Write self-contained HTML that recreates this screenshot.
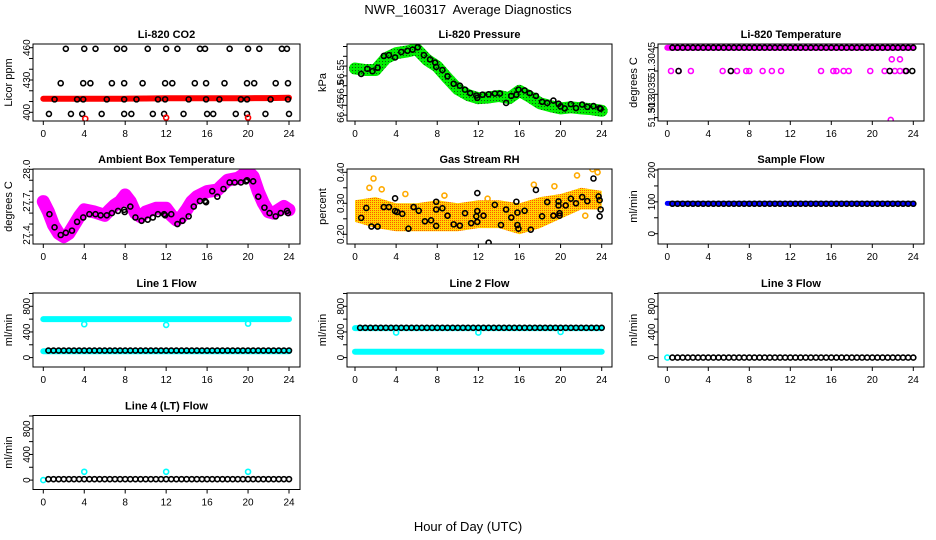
<!DOCTYPE html>
<html><head><meta charset="utf-8"><style>
html,body{margin:0;padding:0;background:#fff;}
svg{display:block;font-family:"Liberation Sans",Arial,sans-serif;}
</style></head><body>
<svg id="fig" width="936" height="540" viewBox="0 0 936 540">
<defs>
<pattern id="pGreen" width="3" height="3" patternUnits="userSpaceOnUse"><rect width="3" height="3" fill="#00ee00"/><rect x="1" y="1" width="1" height="1" fill="#115511"/></pattern>
<pattern id="pOrange" width="2" height="2" patternUnits="userSpaceOnUse"><rect width="2" height="2" fill="#ffd400"/><rect width="1" height="1" fill="#ff5500"/></pattern>
</defs>
<text x="468" y="14" text-anchor="middle" font-size="13" style="white-space:pre">NWR_160317  Average Diagnostics</text>
<text x="468" y="531" text-anchor="middle" font-size="13">Hour of Day (UTC)</text>
</svg>
<script>
// ---- data ----
const hours2 = [0,2,4,6,8,10,12,14,16,18,20,22,24];
const halfHours = [0.5,1,1.5,2,2.5,3,3.5,4,4.5,5,5.5,6,6.5,7,7.5,8,8.5,9,9.5,10,10.5,11,11.5,12,12.5,13,13.5,14,14.5,15,15.5,16,16.5,17,17.5,18,18.5,19,19.5,20,20.5,21,21.5,22,22.5,23,23.5,24];
const hoursFull = [0,1,2,3,4,5,6,7,8,9,10,11,12,13,14,15,16,17,18,19,20,21,22,23,24];

const co2Band = [412.5,412.5,412.5,412.5,412.6,412.8,413,413,413,413,413.1,413.2,413.5];
const co2Hours460 = [2.2,4.0,5.1,7.2,7.9,10.2,12.0,13.1,15.3,15.8,18.2,20.0,21.1,23.3,23.8];
const co2Hours427 = [1.7,3.9,4.6,6.7,7.9,9.7,11.9,12.6,14.8,15.9,17.7,19.9,20.6,22.7,23.9];
const co2Hours412 = [1.1,3.3,3.9,6.2,7.9,9.1,11.2,11.9,14.2,15.9,17.2,19.3,19.9,22.2,23.9];
const co2Hours398 = [0.55,2.7,3.8,5.7,7.9,8.6,10.7,11.8,13.7,16.0,16.6,18.8,19.9,21.7,24.0];
const co2RedHours = [4.1,12.0,20.0];
const co2RedValues = [394,395,395];

const presBand = [66.544,66.54,66.54,66.57,66.583,66.587,66.593,66.566,66.549,66.519,66.491,66.476,66.468,66.47,66.474,66.468,66.487,66.472,66.455,66.448,66.442,66.445,66.442,66.44,66.436];
const presPtsH = [0.6,1.2,1.7,2.2,2.8,3.3,3.9,4.5,5.1,5.6,6.1,6.7,7.3,7.8,7.9,8.5,9.0,9.6,10.2,10.7,11.2,11.8,11.9,12.4,13.0,13.6,14.1,14.7,15.2,15.7,15.9,16.5,17.0,17.6,18.2,18.7,19.3,19.8,20.0,20.4,21.0,21.5,22.1,22.6,23.2,23.8,23.9];
const presPtsV = [66.53,66.543,66.537,66.546,66.576,66.578,66.572,66.586,66.589,66.592,66.598,66.578,66.567,66.559,66.548,66.54,66.524,66.505,66.5,66.49,66.481,66.475,66.469,66.477,66.478,66.48,66.48,66.456,66.474,66.477,66.49,66.488,66.481,66.474,66.459,66.456,66.462,66.454,66.447,66.442,66.453,66.443,66.452,66.446,66.448,66.443,66.441];

const ltMidH = [0.36,1.1,2.3,5.4,6.2,6.8,7.7,8.0,9.3,10.2,11.1,15.0,16.2,16.5,17.2,17.7,19.8,21.2,21.7,22.2,22.7,23.2];
const ltMidBlackH = [1.1,6.2,21.7,23.3,23.9];
const ltUpperH = [21.9,22.7];
const ltLowH = [21.8];
const ltTop = 51.3045, ltMid = 51.3040, ltUpper = 51.30425, ltLow = 51.30295;

const ambBandH = [0,0.5,1,1.5,2,2.5,3,3.5,4,5,6,6.5,7,7.5,8,8.5,9,9.5,10,11,12,12.5,13,13.5,14,14.5,15,16,17,17.5,18,19,19.5,20,20.5,21,21.5,22,22.5,23,23.5,24];
const ambBand = [27.705,27.613,27.49,27.415,27.385,27.415,27.49,27.567,27.63,27.61,27.58,27.63,27.675,27.705,27.765,27.705,27.6,27.567,27.61,27.644,27.644,27.58,27.537,27.567,27.63,27.705,27.75,27.796,27.81,27.857,27.9,27.918,27.948,27.98,27.933,27.796,27.69,27.613,27.6,27.63,27.66,27.63];
const ambPtsH = [0.6,1.1,1.7,2.2,2.8,3.3,3.9,4.5,5.1,5.6,6.2,6.7,7.3,7.9,7.95,8.5,9.0,9.6,10.2,10.7,11.2,11.8,11.9,12.5,13.1,13.6,14.2,14.7,15.3,15.8,15.9,16.5,17.0,17.6,18.2,18.7,19.3,19.8,19.9,20.5,21.0,21.6,22.1,22.7,23.2,23.8,23.9];
const ambPtsV = [27.59,27.47,27.4,27.42,27.44,27.52,27.56,27.59,27.59,27.58,27.58,27.6,27.62,27.63,27.61,27.66,27.56,27.53,27.54,27.56,27.59,27.59,27.58,27.59,27.5,27.53,27.57,27.66,27.71,27.71,27.7,27.8,27.75,27.82,27.88,27.88,27.88,27.89,27.9,27.89,27.75,27.65,27.6,27.57,27.6,27.62,27.6];

const rhUpper = [0.31,0.32,0.30,0.30,0.31,0.30,0.31,0.31,0.30,0.32,0.33,0.35,0.34];
const rhLower = [0.24,0.22,0.21,0.21,0.21,0.21,0.22,0.22,0.20,0.22,0.25,0.28,0.28];
const rhPtsH = [0.6,1.1,1.6,2.2,2.8,3.3,3.9,3.9,4.1,4.6,5.2,5.7,6.2,6.8,7.4,7.9,7.9,7.9,8.5,9.0,9.6,10.2,10.7,11.3,11.8,11.9,11.9,11.9,12.5,13.0,13.6,14.2,14.7,15.2,15.7,15.8,15.8,15.9,16.5,17.1,17.6,18.2,18.7,19.3,19.8,19.8,19.9,19.9,20.5,21.0,21.5,22.1,22.6,23.2,23.7,23.8,23.8,23.9];
const rhPtsV = [0.253,0.285,0.225,0.225,0.288,0.288,0.275,0.316,0.272,0.266,0.218,0.288,0.276,0.242,0.245,0.305,0.28,0.227,0.284,0.26,0.232,0.228,0.268,0.236,0.258,0.333,0.275,0.24,0.26,0.173,0.295,0.23,0.28,0.254,0.305,0.27,0.23,0.218,0.276,0.215,0.343,0.258,0.304,0.26,0.306,0.293,0.268,0.26,0.293,0.315,0.3,0.32,0.307,0.38,0.322,0.31,0.258,0.28];
const rhOutH = [1.8,1.4,2.6,4.9,8.7,12.9,17.4,19.4,21.6,22.4,23.1,23.6];
const rhOutV = [0.38,0.35,0.345,0.33,0.325,0.315,0.36,0.355,0.39,0.26,0.41,0.40];

const sampleBlue = 95, sampleBlack = 94;
const l1Cyan = 600, l1CyanLow = 100, l1Black = 110;
const l1DipH = [4,12,20], l1DipV = [520,510,530];
const l2Cyan = 460, l2CyanLow = 90, l2Black = 465;
const l2DipH = [4,12,20], l2DipV = [390,390,400];
const l3Cyan = 0, l3Black = 0;
const l4Cyan = 0, l4Black = 15;
const l4BumpH = [4,12,20], l4BumpV = [130,130,130];

// ---- layout ----
const NS = "http://www.w3.org/2000/svg";
const svg = document.getElementById('fig');
const cols = [{l:33,r:300,h0:43.3,h24:289},{l:347,r:612,h0:355,h24:601.7},{l:658,r:924,h0:667.3,h24:913.3}];
const rows = [{t:44,b:121},{t:169,b:244},{t:293,b:367},{t:415.5,b:489.5}];
const xTicks = [0,4,8,12,16,20,24];

function mk(tag, attrs, parent){
  const e = document.createElementNS(NS, tag);
  for (const k in attrs) e.setAttribute(k, attrs[k]);
  (parent||svg).appendChild(e);
  return e;
}

function panel(cfg){
  const c = cols[cfg.col], r = rows[cfg.row];
  const g = mk('g', {});
  
  
  const X = h => c.h0 + h*(c.h24-c.h0)/24;
  const Y = v => cfg.p1 + (v-cfg.v1)*(cfg.p2-cfg.p1)/(cfg.v2-cfg.v1);
  const clipId = 'clip'+cfg.name;
  const cp = mk('clipPath', {id:clipId}, g);
  mk('rect', {x:c.l, y:r.t, width:c.r-c.l, height:r.b-r.t}, cp);
  const plot = mk('g', {'clip-path':'url(#'+clipId+')'}, g);
  
  
  const t = mk('text', {x:(c.l+c.r)/2, y:r.t-6, 'text-anchor':'middle', 'font-size':11, 'font-weight':'bold'}, g);
  t.textContent = cfg.title;
  
  
  const box = mk('rect', {x:c.l, y:r.t, width:c.r-c.l, height:r.b-r.t, fill:'none', stroke:'#000', 'stroke-width':1}, g);
  
  
  // x axis
  const xa = mk('g', {stroke:'#000','stroke-width':1}, g);
  
  
  xTicks.forEach(h => {
    mk('line', {x1:X(h), x2:X(h), y1:r.b, y2:r.b+4}, xa);
    const tx = mk('text', {x:X(h), y:r.b+16, 'text-anchor':'middle', 'font-size':10, stroke:'none', fill:'#000'}, xa);
    tx.textContent = h;
    
    
  });
  // y axis
  const ya = mk('g', {stroke:'#000','stroke-width':1}, g);
  
  
  const ax = c.l;
  cfg.ticks.forEach(v => mk('line', {x1:ax-4, x2:ax, y1:Y(v), y2:Y(v)}, ya));
  cfg.labels.forEach(lb => {
    const py = lb.py !== undefined ? lb.py : Y(lb.v);
    const tx = mk('text', {x:0, y:0, 'text-anchor':'middle', 'font-size':10, stroke:'none', fill:'#000', transform:'translate('+(ax-3)+','+py+') rotate(-90)'}, ya);
    tx.textContent = lb.t;
    
    
  });
  const yt = mk('text', {x:0,y:0,'text-anchor':'middle','font-size':11, transform:'translate('+(c.l-21)+','+((r.t+r.b)/2)+') rotate(-90)'}, g);
  yt.textContent = cfg.ylab;
  
  
  return {g:plot, X, Y, c, r};
}

function band(p, hs, vs, color, w, name){
  const pts = hs.map((h,i) => p.X(h).toFixed(1)+','+p.Y(vs[i]).toFixed(1)).join(' ');
  const el = mk('polyline', {points:pts, fill:'none', stroke:color, 'stroke-width':w, 'stroke-linejoin':'round', 'stroke-linecap':'round'}, p.g);
  
  
}
function areaBand(p, hs, up, lo, fill, name){
  const a = hs.map((h,i)=>p.X(h).toFixed(1)+','+p.Y(up[i]).toFixed(1));
  const b = hs.map((h,i)=>p.X(h).toFixed(1)+','+p.Y(lo[i]).toFixed(1)).reverse();
  const el = mk('polygon', {points:a.concat(b).join(' '), fill:fill}, p.g);
  
  
}
function pts(p, hs, vs, color, name){
  hs.forEach((h,i) => {
    const v = Array.isArray(vs) ? vs[i] : vs;
    const el = mk('circle', {cx:p.X(h), cy:p.Y(v), r:2.5, fill:'none', stroke:color, 'stroke-width':1.6}, p.g);
    
    
  });
}
function flat(v){ return hoursFull.map(() => v); }

// CO2
let p = panel({name:'co2-panel', title:'Li-820 CO2', col:0,row:0, v1:460,p1:47.7,v2:400,p2:112.3, ticks:[400,410,420,430,440,450,460], labels:[{v:400,t:'400'},{v:430,t:'430'},{v:460,t:'460'}], ylab:'Licor ppm'});
band(p, hours2, co2Band, '#ff0000', 6, 'co2-red-band');
pts(p, co2Hours460, 459, '#000', 'co2-point');
pts(p, co2Hours427, 427, '#000', 'co2-point');
pts(p, co2Hours412, 412, '#000', 'co2-point');
pts(p, co2Hours398, 398.5, '#000', 'co2-point');
pts(p, co2RedHours, co2RedValues, '#ff0000', 'co2-red-point');

// Pressure
p = panel({name:'pressure-panel', title:'Li-820 Pressure', col:1,row:0, v1:66.45,p1:105.3,v2:66.55,p2:66.1, ticks:[66.425,66.45,66.475,66.5,66.525,66.55,66.575,66.6], labels:[{v:66.437,t:'66.45'},{v:66.49,t:'66.5'},{v:66.535,t:'66.55'}], ylab:'kPa'});
band(p, hoursFull, presBand, 'url(#pGreen)', 12, 'pressure-green-band');
pts(p, presPtsH, presPtsV, '#000', 'pressure-point');

// Li-820 temperature
p = panel({name:'licor-temp-panel', title:'Li-820 Temperature', col:2,row:0, v1:51.3045,p1:47.7,v2:51.3040,p2:71, ticks:[51.3045,51.3040,51.3035,51.3030], labels:[{py:60,t:'51.3045'},{py:95,t:'51.3035'},{py:112,t:'51.303'}], ylab:'degrees C'});
band(p, [0,24], [ltTop,ltTop], '#ff00ff', 6, 'licor-temp-band');
pts(p, halfHours, ltTop, '#000', 'licor-temp-point');
pts(p, ltMidH, ltMid, '#ff00ff', 'licor-temp-magenta-point');
pts(p, ltMidBlackH, ltMid, '#000', 'licor-temp-point');
pts(p, ltUpperH, ltUpper, '#ff00ff', 'licor-temp-magenta-point');
pts(p, ltLowH, ltLow, '#ff00ff', 'licor-temp-magenta-point');

// Ambient
p = panel({name:'ambient-temp-panel', title:'Ambient Box Temperature', col:0,row:1, v1:28.0,p1:169.3,v2:27.4,p2:235, ticks:[27.4,27.5,27.6,27.7,27.8,27.9,28.0], labels:[{v:27.4,t:'27.4'},{v:27.7,t:'27.7'},{v:28.0,t:'28.0'}], ylab:'degrees C'});
band(p, ambBandH, ambBand, '#ff00ff', 13, 'ambient-magenta-band');
pts(p, ambPtsH, ambPtsV, '#000', 'ambient-point');

// RH
p = panel({name:'rh-panel', title:'Gas Stream RH', col:1,row:1, v1:0.40,p1:172.3,v2:0.20,p2:234.3, ticks:[0.20,0.25,0.30,0.35,0.40], labels:[{v:0.20,t:'0.20'},{v:0.30,t:'0.30'},{v:0.40,t:'0.40'}], ylab:'percent'});
areaBand(p, hours2, rhUpper, rhLower, 'url(#pOrange)', 'rh-orange-band');
pts(p, rhOutH, rhOutV, '#ffaa00', 'rh-orange-point');
pts(p, rhPtsH, rhPtsV, '#000', 'rh-point');

// Sample flow
p = panel({name:'sample-flow-panel', title:'Sample Flow', col:2,row:1, v1:200,p1:170,v2:0,p2:233.7, ticks:[0,50,100,150,200], labels:[{v:0,t:'0'},{v:100,t:'100'},{v:200,t:'200'}], ylab:'ml/min'});
band(p, hoursFull, flat(sampleBlue), '#0000ff', 5, 'sample-blue-band');
pts(p, halfHours, sampleBlack, '#000', 'sample-point');

function flowPanel(name,title,col,row){
  const r = rows[row];
  return panel({name, title, col, row, v1:800,p1:r.t+13.3,v2:0,p2:r.t+64.6, ticks:[0,200,400,600,800,1000], labels:[{v:0,t:'0'},{v:400,t:'400'},{v:800,t:'800'}], ylab:'ml/min'});
}
p = flowPanel('line1-flow-panel','Line 1 Flow',0,2);
band(p, hoursFull, flat(l1Cyan), '#00ffff', 6, 'line1-cyan-band');
band(p, hoursFull, flat(l1CyanLow), '#00ffff', 6, 'line1-cyan-low-band');
pts(p, l1DipH, l1DipV, '#00ffff', 'line1-cyan-point');
pts(p, halfHours, l1Black, '#000', 'line1-point');

p = flowPanel('line2-flow-panel','Line 2 Flow',1,2);
band(p, hoursFull, flat(l2Cyan), '#00ffff', 6, 'line2-cyan-band');
band(p, hoursFull, flat(l2CyanLow), '#00ffff', 6, 'line2-cyan-low-band');
pts(p, l2DipH, l2DipV, '#00ffff', 'line2-cyan-point');
pts(p, halfHours, l2Black, '#000', 'line2-point');

p = flowPanel('line3-flow-panel','Line 3 Flow',2,2);
pts(p, [0], l3Cyan, '#00ffff', 'line3-cyan-point');
pts(p, halfHours, l3Black, '#000', 'line3-point');

p = flowPanel('line4-flow-panel','Line 4 (LT) Flow',0,3);
pts(p, [0], l4Cyan, '#00ffff', 'line4-cyan-point');
pts(p, l4BumpH, l4BumpV, '#00ffff', 'line4-cyan-point');
pts(p, halfHours, l4Black, '#000', 'line4-point');
</script>
</body></html>
